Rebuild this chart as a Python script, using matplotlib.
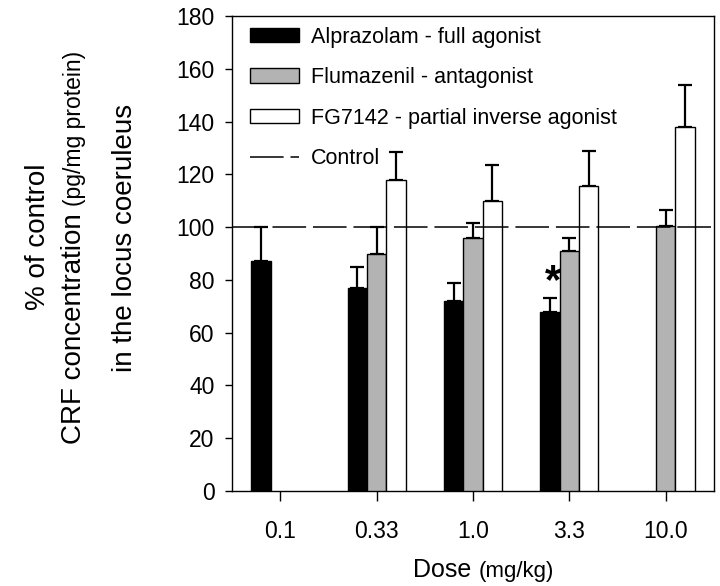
import numpy as np
import matplotlib
matplotlib.use("Agg")
import matplotlib.pyplot as plt
from matplotlib.patches import Patch
from matplotlib.lines import Line2D

plt.rcParams['font.family'] = ['Liberation Sans', 'DejaVu Sans']

doses = ['0.1', '0.33', '1.0', '3.3', '10.0']
series_names = ['Alprazolam - full agonist', 'Flumazenil - antagonist',
                'FG7142 - partial inverse agonist']
alprazolam = [87, 77, 72, 68, np.nan]
alprazolam_err = [13, 8, 7, 5, np.nan]
flumazenil = [np.nan, 90, 96, 91, 100.5]
flumazenil_err = [np.nan, 10, 5.5, 5, 6]
fg7142 = [np.nan, 118, 110, 115.5, 138]
fg7142_err = [np.nan, 10.5, 13.5, 13.5, 16]
control_value = 100
star_dose_index = 3
star_value = 79

W, H = 720, 586
fig = plt.figure(figsize=(W / 100, H / 100), dpi=100)
ax = fig.add_axes([232 / W, 1 - 491 / H, (714 - 232) / W, (491 - 16) / H])

x = np.arange(len(doses))
bw = 0.2
colors = ['black', '#b3b3b3', 'white']
data = [alprazolam, flumazenil, fg7142]
errs = [alprazolam_err, flumazenil_err, fg7142_err]
offsets = [-bw, 0, bw]
for vals, err, col, off in zip(data, errs, colors, offsets):
    vals = np.array(vals, dtype=float)
    err = np.array(err, dtype=float)
    m = ~np.isnan(vals)
    ax.bar(x[m] + off, vals[m], width=bw, color=col, edgecolor='black',
           linewidth=1.0, zorder=3)
    ax.errorbar(x[m] + off, vals[m], yerr=[np.zeros(m.sum()), err[m]],
                fmt='none', ecolor='black', elinewidth=1.6, capsize=4.8,
                capthick=1.6, zorder=2)

ax.axhline(control_value, color='black', linewidth=1.1, dashes=(22, 4.5), zorder=4)

ax.text(x[star_dose_index] - bw + 0.03, star_value, '*', fontsize=30, fontweight='bold',
        ha='center', va='center', zorder=5)

ax.set_xlim(-0.5, 4.5)
ax.set_ylim(0, 180)
ax.set_yticks(np.arange(0, 181, 20))
ax.set_xticks(x)
ax.set_xticklabels(doses)
ax.tick_params(axis='y', direction='out', length=5, width=1, labelsize=16.5, pad=7.5)
ax.tick_params(axis='x', direction='out', length=7, width=1, labelsize=16.5, pad=14)
for s in ax.spines.values():
    s.set_linewidth(1.0)

handles = [Patch(facecolor='black', edgecolor='black'),
           Patch(facecolor='#b3b3b3', edgecolor='black'),
           Patch(facecolor='white', edgecolor='black'),
           Line2D([0], [0], color='black', linewidth=1.1, dashes=(22, 4.5))]
labels = series_names + ['Control']
leg = ax.legend(handles, labels, loc='upper left', bbox_to_anchor=(0.016, 1.0),
                frameon=False, fontsize=15.5, handlelength=2.25, handleheight=0.65,
                labelspacing=0.9, handletextpad=0.55, borderaxespad=0.1,
                borderpad=0.4)

# y labels
fig.text(38 / W, 1 - 237 / H, '% of control', rotation=90, fontsize=20,
         ha='center', va='center')
fig.text(125 / W, 1 - 238 / H, 'in the locus coeruleus', rotation=90, fontsize=20,
         ha='center', va='center')
fig.canvas.draw()
r = fig.canvas.get_renderer()
t1 = fig.text(74 / W, 1 - 444 / H, 'CRF concentration ', rotation=90, fontsize=20,
              ha='center', va='bottom')
bb = t1.get_window_extent(r)
fig.text(74 / W, bb.y1 / H, '(pg/mg protein)', rotation=90, fontsize=16.5,
         ha='center', va='bottom')

# x label
t2 = fig.text(413 / W, 1 - 570 / H, 'Dose ', fontsize=18, ha='left', va='center')
bb2 = t2.get_window_extent(r)
fig.text(bb2.x1 / W, 1 - 571 / H, '(mg/kg)', fontsize=16, ha='left', va='center')

fig.savefig('out.png', dpi=100)
